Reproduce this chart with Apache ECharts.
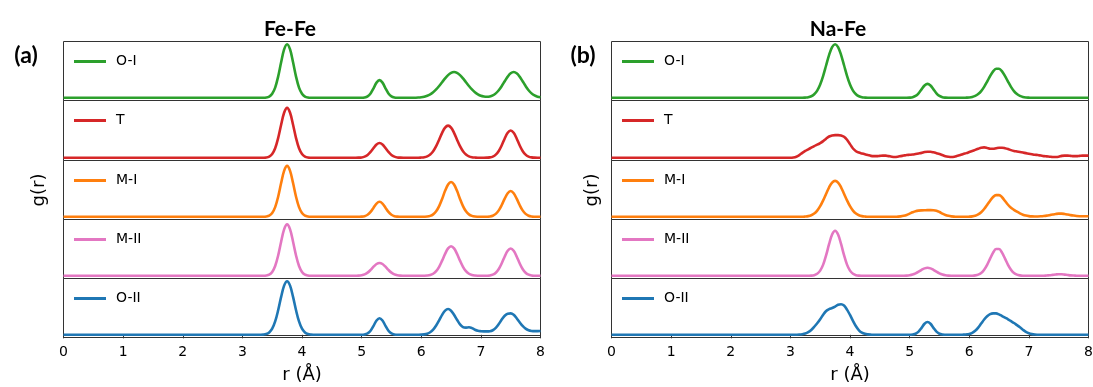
<!DOCTYPE html>
<html><head><meta charset="utf-8">
<script src="https://cdn.jsdelivr.net/npm/echarts/dist/echarts.min.js"></script>
<style>html,body{margin:0;padding:0;background:#fff}#c{width:1093px;height:387px}</style>
</head><body><div id="c"></div>
<script>
// r grid (Å)
const R = [0,
 3.00,3.05,3.10,3.15,3.20,3.25,3.30,3.35,3.40,3.45,
 3.50,3.55,3.60,3.65,3.70,3.75,3.80,3.85,3.90,3.95,
 4.00,4.05,4.10,4.15,4.20,4.25,4.30,4.35,4.40,4.45,
 4.50,4.55,4.60,4.65,4.70,4.75,4.80,4.85,4.90,4.95,
 5.00,5.05,5.10,5.15,5.20,5.25,5.30,5.35,5.40,5.45,
 5.50,5.55,5.60,5.65,5.70,5.75,5.80,5.85,5.90,5.95,
 6.00,6.05,6.10,6.15,6.20,6.25,6.30,6.35,6.40,6.45,
 6.50,6.55,6.60,6.65,6.70,6.75,6.80,6.85,6.90,6.95,
 7.00,7.05,7.10,7.15,7.20,7.25,7.30,7.35,7.40,7.45,
 7.50,7.55,7.60,7.65,7.70,7.75,7.80,7.85,7.90,7.95,
 8.00];

// Fe-Fe g(r) (relative units)
const FeFe_OI = [0,
 0,0,0,0,0,0,0,0.1,0.6,2.4,
 7.6,19.1,39.5,66.2,90.2,100,90.2,66.2,39.5,19.1,
 7.6,2.4,0.6,0.1,0,0,0,0,0,0,
 0,0,0,0,0,0,0,0,0,0,
 0,0.7,2.8,8.2,17.8,28.3,33,28.3,17.8,8.2,
 2.8,0.7,0.1,0,0,0,0,0,0.2,0.5,
 1.1,2.1,3.8,6.5,10.4,15.6,22,29.1,36.2,42.3,
 46.5,48,46.5,42.3,36.2,29.1,22,15.6,10.4,6.5,
 3.8,2.5,2.0,2.6,4.6,8.3,14.2,22,30.9,39.5,
 45.7,48,45.7,39.5,30.9,22,14.2,8.3,4.4,2.1,
 0.9];
const FeFe_T = [0,
 0,0,0,0,0,0,0,0.1,0.5,2.2,
 7.0,17.5,36.1,60.6,82.5,91.5,82.5,60.6,36.1,17.5,
 7.0,2.2,0.5,0.1,0,0,0,0,0,0,
 0,0,0,0,0,0,0,0,0,0.2,
 0.6,2.1,5.2,10.7,17.9,24.4,27,24.4,17.9,10.7,
 5.2,2.1,0.6,0.2,0,0,0,0,0,0,
 0.4,1,2.6,6,12,21.2,33.2,45.7,55.3,59,
 55.3,45.7,33.2,21.2,12,6,2.6,1,0.4,0,
 0,0,0.2,0.7,2.2,5.7,12.5,22.9,35.4,45.9,
 50,45.9,35.4,22.9,12.5,5.7,2.2,0.7,0.2,0,
 0];
const FeFe_MI = [0,
 0,0,0,0,0,0,0,0.1,0.6,2.3,
 7.2,18.1,37.5,62.9,85.7,95,85.7,62.9,37.5,18.1,
 7.2,2.3,0.6,0.1,0,0,0,0,0,0,
 0,0,0,0,0,0,0,0,0,0.1,
 0.3,1.2,3.8,9.1,17,24.7,28,24.7,17,9.1,
 3.8,1.2,0.3,0.1,0,0,0,0,0,0,
 0,0.2,0.6,1.8,4.6,10.2,19.9,33.4,48.4,60.4,
 65,60.4,48.4,33.4,19.9,10.2,4.6,1.8,0.6,0.2,
 0,0,0.2,0.7,2.1,5.5,12,22,33.9,44,
 48,44,33.9,22,12,5.5,2.1,0.7,0.2,0,
 0];
const FeFe_MII = [0,
 0,0,0,0,0,0,0,0.1,0.6,2.3,
 7.3,18.3,37.9,63.6,86.6,96,86.6,63.6,37.9,18.3,
 7.3,2.3,0.6,0.1,0,0,0,0,0,0,
 0,0,0,0,0,0,0,0,0.1,0.3,
 1.1,2.7,6,11,17,22,24,22,17,11,
 6,2.7,1.1,0.3,0.1,0,0,0,0,0,
 0,0.1,0.5,1.5,3.9,8.6,16.8,28.3,40.9,51.1,
 55,51.1,40.9,28.3,16.8,8.6,3.9,1.5,0.5,0.1,
 0,0,0.2,0.7,2.2,5.8,12.7,23.4,36.1,46.8,
 51,46.8,36.1,23.4,12.7,5.8,2.2,0.7,0.2,0,
 0];
const FeFe_OII = [0,
 0,0,0,0,0,0,0.1,0.4,1.4,4.4,
 11.4,24.9,45.8,70.7,91.7,100,91.7,70.7,45.8,24.9,
 11.4,4.4,1.4,0.4,0.1,0,0,0,0,0,
 0,0,0,0,0,0,0,0,0,0,
 0,0.7,2.6,7.7,16.7,26.6,31,26.6,16.7,7.7,
 2.6,0.7,0.1,0,0,0,0,0,0,0.1,
 0.3,0.8,2.1,4.8,9.7,17.3,27,37.2,45,48,
 45,37.5,28,19.5,14.5,13.5,14,12.5,9.5,7.5,
 6.8,6.5,6.5,6.8,8.5,13,20,28.5,35.5,39.5,
 40,37.5,31,23.5,16.5,11.5,8.5,7.2,6.8,6.8,
 7];

// Na-Fe g(r) (relative units)
const NaFe_OI = [0,
 0,0,0,0,0,0.4,1.1,2.9,6.6,13.5,
 24.9,41.1,60.7,80,94.6,100,94.6,80,60.7,41.1,
 24.9,13.5,6.6,2.9,1.1,0.4,0,0,0,0,
 0,0,0,0,0,0,0,0,0,0,
 0.3,1.1,3.5,8.5,15.8,22.9,26,22.9,15.8,8.5,
 3.5,1.1,0.3,0,0,0,0,0,0,0.3,
 0.7,1.6,3.5,7,12.6,20.5,30.2,40.5,49.3,54.3,
 54.3,49.3,40.5,30.2,20.5,12.6,7,3.5,1.6,0.7,
 0.3,0,0,0,0,0,0,0,0,0,
 0,0,0,0,0,0,0,0,0,0,
 0];
const NaFe_T = [0,
 0,0.5,2,5,9,12.5,15.5,18.5,21.5,24,
 27,30.5,35,39,41,41.5,41.5,41,38.5,33,
 25,17,12,9.5,8,6.5,5,3.5,3,3,
 3.5,4,4,3,2,1.5,2,3,4,5,
 5.5,6,7,8,9,10.5,11,11,10,8.5,
 7,5,3,2,1.5,2,3.5,5,7,8.5,
 10.5,12.5,14.5,16.5,18.5,19,18,16.5,16.5,17.5,
 18.5,18.5,17.5,16,14,12.5,11.5,10.5,9.5,8.5,
 7.5,6.5,5.5,5,4,3,2.5,2,1.5,1.5,
 2,3.5,4,4,3.5,3,3,3.5,4,4,
 4];
const NaFe_MI = [0,
 0,0,0,0,0,0.5,1.3,2.9,6.1,11.5,
 19.8,30.7,43.1,55.1,63.8,67,63.8,55.1,43.1,30.7,
 19.8,11.5,6.1,2.9,1.3,0.5,0,0,0,0,
 0,0,0,0,0,0,0.3,0.8,1.8,3.5,
 6,8.5,10.5,11.5,12,12.3,12.5,12.5,12.3,11.3,
 9,6,3.5,1.8,0.8,0.3,0,0,0,0,
 0.3,0.8,2,4.5,8.5,14.5,22,30,37,40.5,
 40.5,36.5,29.5,22.5,17,13,9.5,6.5,4,2.3,
 1.3,0.8,0.6,0.7,1,1.5,2.2,3.2,4.3,5.3,
 6,6,5.3,4.3,3.2,2.3,1.6,1.2,1,1,
 1.2];
const NaFe_MII = [0,
 0,0,0,0,0,0,0.1,0.3,1.2,3.7,
 9.6,20.9,38.5,59.4,77,84,77,59.4,38.5,20.9,
 9.6,3.7,1.2,0.3,0.1,0,0,0,0,0,
 0,0,0,0,0,0,0,0,0.1,0.4,
 1.1,2.4,4.6,7.7,11.2,13.9,15,13.9,11.2,7.7,
 4.6,2.4,1.1,0.4,0.1,0,0,0,0,0,
 0,0.2,0.8,2.2,5.4,11.4,20.6,32.1,43.2,50.1,
 50.1,43.2,32.1,20.6,11.4,5.4,2.2,0.8,0.2,0,
 0,0,0,0,0,0,0.6,1.1,1.8,2.5,
 3,2.9,2.3,1.6,0.9,0.5,0.2,0,0,0,
 0];
const NaFe_OII = [0,
 0,0,0.2,0.5,1.2,2.5,5,9,15,21.5,
 29,37.5,44.5,48,50,52.5,56,57,54.5,47,
 37,26,16,8.5,4,1.8,0.8,0.3,0,0,
 0,0,0,0,0,0,0,0,0,0,
 0,0.5,2,6,12.9,20.6,24,20.6,12.9,6,
 2,0.5,0.1,0,0,0,0,0,0.3,0.7,
 1.5,3.5,7.5,13.5,21,28.5,34.5,38.5,40,40,
 38,35,32,29,25.5,22,18,14,9.5,5.5,
 2.8,1.3,0.5,0.2,0,0,0,0,0,0,
 0,0,0,0,0,0,0,0,0,0,
 0];

const PHASES = ['O-I', 'T', 'M-I', 'M-II', 'O-II'];
const COLORS = ['#2ca02c', '#d62728', '#ff7f0e', '#e377c2', '#1f77b4'];
const PANEL_TITLES = ['Fe-Fe', 'Na-Fe'];
const PANEL_TAGS = ['(a)', '(b)'];
const X_LABEL = 'r (Å)';
const Y_LABEL = 'g(r)';
const PANEL_DATA = [
  [FeFe_OI, FeFe_T, FeFe_MI, FeFe_MII, FeFe_OII],
  [NaFe_OI, NaFe_T, NaFe_MI, NaFe_MII, NaFe_OII]
];

// layout
const LEFTS = [63.5, 611.5];
const WIDTH = 477;
const TOPS = [41.5, 100.5, 160.5, 219.5, 278.5];
const HEIGHTS = [59, 60, 59, 59, 59];
const TITLE_X = [290, 838];
const TAG_X = [26, 583];
const YNAME_GAP = [15, 10];

const grids = [], xAxes = [], yAxes = [], series = [], legends = [];
for (let p = 0; p < 2; p++) {
  for (let k = 0; k < 5; k++) {
    const idx = p * 5 + k;
    const bottom = k === 4;
    grids.push({left: LEFTS[p], top: TOPS[k], width: WIDTH, height: HEIGHTS[k],
      show: true, borderColor: '#333', borderWidth: 1, containLabel: false,
      outerBoundsMode: 'none'});
    xAxes.push({gridIndex: idx, type: 'value', min: 0, max: 8, interval: 1,
      axisLine: {show: bottom, lineStyle: {color: '#333', width: 1}},
      axisTick: {show: bottom, length: 3.5, inside: false, lineStyle: {color: '#333', width: 1}},
      axisLabel: {show: bottom, margin: 8, fontSize: 14, color: '#000', fontFamily: 'DejaVu Sans'},
      splitLine: {show: false},
      name: bottom ? X_LABEL : '', nameLocation: 'middle', nameGap: 29,
      nameTextStyle: {fontSize: 18, fontFamily: 'DejaVu Sans', color: '#000'}});
    yAxes.push({gridIndex: idx, type: 'value', min: -5, max: 105,
      axisLine: {show: false}, axisTick: {show: false}, axisLabel: {show: false},
      splitLine: {show: false},
      name: k === 2 ? Y_LABEL : '', nameLocation: 'middle', nameRotate: 90, nameGap: YNAME_GAP[p],
      nameTextStyle: {fontSize: 18, fontFamily: 'DejaVu Sans', color: '#000'}});
    const arr = PANEL_DATA[p][k];
    series.push({type: 'line', name: PHASES[k], xAxisIndex: idx, yAxisIndex: idx,
      data: R.map((r, j) => [r, arr[j]]),
      showSymbol: false, symbol: 'none', smooth: 0.35, clip: true,
      lineStyle: {color: COLORS[k], width: 2.6}, itemStyle: {color: COLORS[k]},
      silent: true});
    legends.push({data: [PHASES[k]], left: LEFTS[p] + 10.5, top: TOPS[k] + 13,
      icon: 'rect', itemWidth: 32, itemHeight: 3, padding: 0, selectedMode: false,
      textStyle: {fontSize: 14, fontFamily: 'DejaVu Sans', color: '#000', padding: [0, 0, 0, 5]}});
  }
}

const graphics = [];
for (let p = 0; p < 2; p++) {
  graphics.push({type: 'text', x: TITLE_X[p], y: 29, style: {text: PANEL_TITLES[p],
    font: 'bold 21px Lato', fill: '#000', textAlign: 'center', textVerticalAlign: 'middle'}});
  graphics.push({type: 'text', x: TAG_X[p], y: 56, style: {text: PANEL_TAGS[p],
    font: 'bold 23px Lato', fill: '#000', textAlign: 'center', textVerticalAlign: 'middle'}});
}

const chart = echarts.init(document.getElementById('c'), null, {renderer: 'canvas'});
chart.setOption({
  animation: false,
  backgroundColor: '#fff',
  grid: grids, xAxis: xAxes, yAxis: yAxes, series: series, legend: legends,
  graphic: graphics
});
</script></body></html>
